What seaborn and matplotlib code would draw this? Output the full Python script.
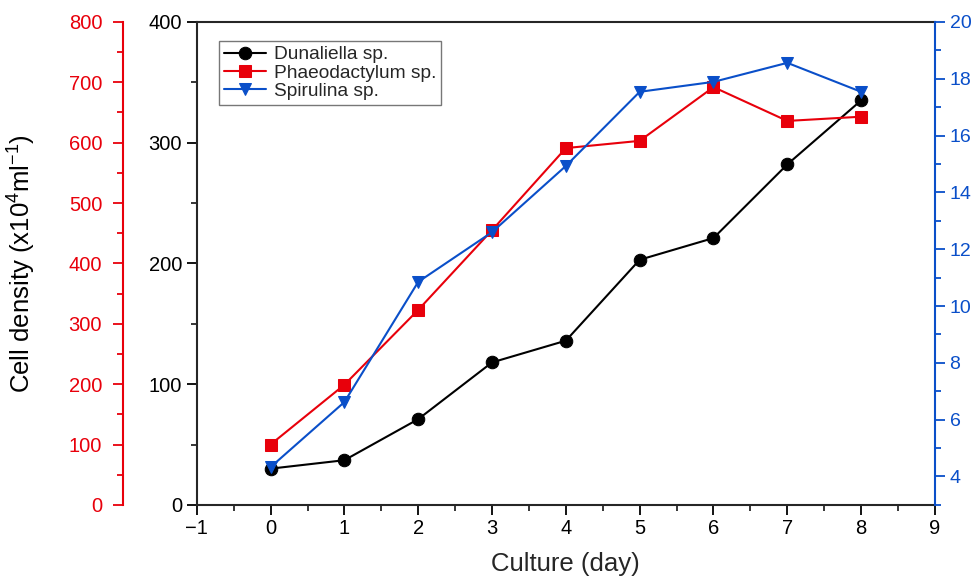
import numpy as np
import matplotlib
matplotlib.use("Agg")
import matplotlib.pyplot as plt
import seaborn as sns
from matplotlib.ticker import MultipleLocator

# data
days = [0, 1, 2, 3, 4, 5, 6, 7, 8]
dunaliella = [30, 37, 71, 118, 136, 203, 221, 282, 335]         # left black axis
phaeodactylum = [100, 199, 323, 455, 591, 603, 692, 636, 643]   # red axis
spirulina = [4.33, 6.62, 10.85, 12.6, 14.93, 17.54, 17.89, 18.56, 17.54]  # right blue axis

sns.set_style("ticks")
plt.rcParams['font.family'] = ['Liberation Sans', 'DejaVu Sans']
plt.rcParams['mathtext.default'] = 'regular'

RED = "#e8000b"
BLUE = "#0a4fc9"

fig = plt.figure(figsize=(9.79, 5.77), dpi=100)
ax = fig.add_axes([0.201, 0.125, 0.754, 0.837])
ax_r = ax.twinx()
ax_b = ax.twinx()

# -----------------------------
# lines
# -----------------------------
sns.lineplot(x=days, y=dunaliella, ax=ax, color="black", marker="o",
             markersize=9, markeredgecolor="black", linewidth=1.5,
             label="Dunaliella sp.", legend=False)
sns.lineplot(x=days, y=phaeodactylum, ax=ax_r, color=RED, marker="s",
             markersize=8, markeredgecolor=RED, linewidth=1.5,
             label="Phaeodactylum sp.", legend=False)
sns.lineplot(x=days, y=spirulina, ax=ax_b, color=BLUE, marker="v",
             markersize=9, markeredgecolor=BLUE, linewidth=1.5,
             label="Spirulina sp.", legend=False)

# -----------------------------
# black axis (left, inner)
# -----------------------------
ax.set_xlim(-1, 9)
ax.set_ylim(0, 400)
ax.xaxis.set_minor_locator(MultipleLocator(0.5))
ax.yaxis.set_major_locator(MultipleLocator(100))
ax.yaxis.set_minor_locator(MultipleLocator(50))
ax.tick_params(which="major", direction="out", length=7, width=1.3, labelsize=14.5, colors="black")
ax.tick_params(which="minor", direction="out", length=4, width=1.3)
ax.set_xticks(range(-1, 10))
ax.set_xticklabels([("\u2212" + str(-t)) if t < 0 else str(t) for t in range(-1, 10)])
for s in ["left", "bottom", "top"]:
    ax.spines[s].set_linewidth(1.5)
    ax.spines[s].set_visible(True)
ax.spines["right"].set_visible(False)
ax.set_xlabel("Culture (day)", fontsize=18.5, labelpad=10)

# -----------------------------
# red axis (far left)
# -----------------------------
ax_r.set_ylim(0, 800)
ax_r.yaxis.set_label_position("left")
ax_r.yaxis.tick_left()
ax_r.spines["left"].set_position(("axes", -0.1))
ax_r.spines["left"].set_visible(True)
ax_r.spines["left"].set_color(RED)
ax_r.spines["left"].set_linewidth(1.5)
for s in ["right", "top", "bottom"]:
    ax_r.spines[s].set_visible(False)
ax_r.yaxis.set_major_locator(MultipleLocator(100))
ax_r.yaxis.set_minor_locator(MultipleLocator(50))
ax_r.tick_params(axis="y", which="major", direction="out", length=7, width=1.3,
                 colors=RED, labelsize=14.5, pad=8)
ax_r.tick_params(axis="y", which="minor", direction="out", length=4, width=1.3, colors=RED)
ax_r.set_ylabel("Cell density (x10$^{4}$ml$^{-1}$)", fontsize=18.5, color="black", labelpad=22)

# -----------------------------
# blue axis (right)
# -----------------------------
ax_b.set_ylim(3, 20)
ax_b.spines["right"].set_color(BLUE)
ax_b.spines["right"].set_linewidth(1.5)
for s in ["left", "top", "bottom"]:
    ax_b.spines[s].set_visible(False)
ax_b.set_yticks(range(4, 21, 2))
ax_b.yaxis.set_minor_locator(MultipleLocator(1))
ax_b.tick_params(axis="y", which="major", direction="out", length=7, width=1.3,
                 colors=BLUE, labelsize=14)
ax_b.tick_params(axis="y", which="minor", direction="out", length=4, width=1.3, colors=BLUE)

# -----------------------------
# legend
# -----------------------------
handles = []
labels = []
for a in [ax, ax_r, ax_b]:
    h, l = a.get_legend_handles_labels()
    handles += h
    labels += l
leg = ax_b.legend(handles, labels, loc="upper left", bbox_to_anchor=(0.03, 0.96),
                  fontsize=13.8, frameon=True, fancybox=False, edgecolor="#555555",
                  handlelength=2.2, handletextpad=0.4, borderpad=0.25, labelspacing=0.05,
                  borderaxespad=0)
leg.get_frame().set_linewidth(1.0)

fig.savefig("out.png", dpi=100)
